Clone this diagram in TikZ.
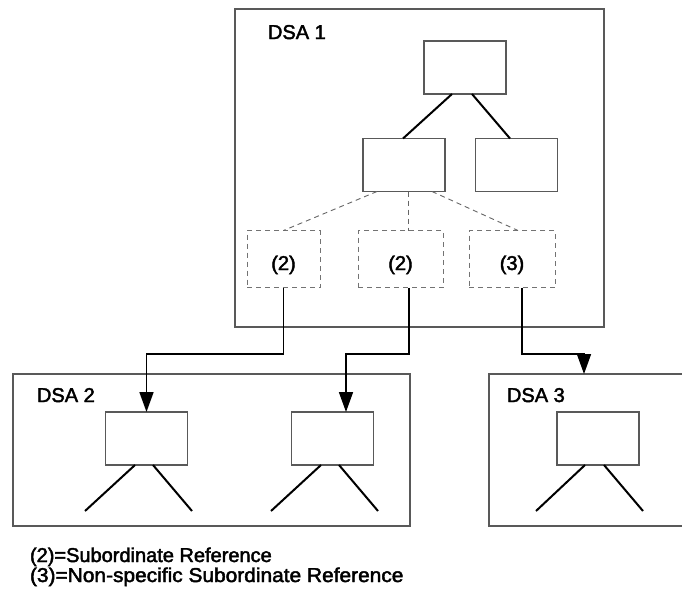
\documentclass[tikz,border=0pt]{standalone}
\usepackage{fontspec}
\usepackage{graphicx}
\setmainfont{Liberation Sans}
\newfontfamily\diagfont[FakeBold=2.2]{Liberation Sans}
\usetikzlibrary{arrows.meta}
\begin{document}
\begin{tikzpicture}[x=1pt,y=-1pt,
  every node/.style={inner sep=0pt,outer sep=0pt},
  area/.style={draw=black!65,line width=1.2pt,rectangle},
  entry/.style={draw=black!65,line width=1.1pt,rectangle,minimum width=82pt,minimum height=53pt},
  refbox/.style={draw=black!55,line width=0.9pt,dashed,dash pattern=on 5pt off 4pt,rectangle,minimum height=57pt},
  link/.style={line width=2pt,black},
  reflink/.style={draw=black!60,line width=0.9pt,dash pattern=on 5pt off 4pt},
  conn/.style={line width=1.7pt,black,-{Triangle[length=20pt,width=14pt]}},
  lbl/.style={font=\diagfont\fontsize{20}{22}\selectfont,anchor=base west},
  tag/.style={font=\diagfont\fontsize{20}{22}\selectfont,anchor=base}]
\clip (0,0) rectangle (682,592);
\fill[white] (0,0) rectangle (682,592);

% directory system agents
\node[area,minimum width=369pt,minimum height=318pt] (dsa1) at (419.5,168) {};
\node[area,minimum width=397pt,minimum height=152pt] (dsa2) at (211.5,450) {};
\node[area,minimum width=240pt,minimum height=152pt] (dsa3) at (609,450) {};
\node[lbl] (l1) at (268,39) {DSA 1};
\node[lbl] (l2) at (37,402) {DSA 2};
\node[lbl] (l3) at (507,402) {DSA 3};

% entries held by DSA 1
\node[entry] (top) at (465,67.5) {};
\node[entry] (ml) at (404,165) {};
\node[entry] (mr) at (516.5,165) {};
\draw[link] ([xshift=-13pt]top.south) -- ([xshift=-1pt]ml.north);
\draw[link] ([xshift=7pt]top.south) -- ([xshift=-6.5pt]mr.north);

% knowledge references
\node[refbox,minimum width=73pt] (p1) at (283.5,259) {};
\node[refbox,minimum width=85pt] (p2) at (400.5,259) {};
\node[refbox,minimum width=86pt] (p3) at (512,259) {};
\node[tag] at (283.5,270) {(2)};
\node[tag] at (400.5,270) {(2)};
\node[tag] at (512,270) {(3)};
\draw[reflink] ([xshift=-27pt]ml.south) -- (p1.north);
\draw[reflink] ([xshift=4pt]ml.south) -- ([xshift=7.5pt]p2.north);
\draw[reflink] ([xshift=28pt]ml.south) -- ([xshift=6pt]p3.north);

% entries held by DSA 2 and DSA 3
\node[entry] (c1) at (146.5,438.5) {};
\node[entry] (c2) at (332.5,438.5) {};
\node[entry] (c3) at (598,438.5) {};
\coordinate (c1a) at (85,511);  \coordinate (c1b) at (192,511);
\coordinate (c2a) at (271,511); \coordinate (c2b) at (378,511);
\coordinate (c3a) at (536,511); \coordinate (c3b) at (643,511);
\draw[link] ([xshift=-11.5pt]c1.south) -- (c1a);
\draw[link] ([xshift=6.5pt]c1.south) -- (c1b);
\draw[link] ([xshift=-11.5pt]c2.south) -- (c2a);
\draw[link] ([xshift=6.5pt]c2.south) -- (c2b);
\draw[link] ([xshift=-13pt]c3.south) -- (c3a);
\draw[link] ([xshift=6pt]c3.south) -- (c3b);

% references pointing into the other DSAs
\coordinate (jog) at (0,354);
\coordinate (d3in) at (584,374);
\draw[conn] (p1.south) -- (p1.south |- jog) -| (c1.north);
\draw[conn] ([xshift=8.5pt]p2.south) -- ([xshift=8.5pt]p2.south |- jog) -| ([xshift=13.5pt]c2.north);
\draw[conn] ([xshift=10pt]p3.south) -- ([xshift=10pt]p3.south |- jog) -| (d3in);

% legend
\node[lbl] (k1) at (30,562) {(2)=Subordinate Reference};
\node[lbl] (k2) at (30,582) {\scalebox{1.045}[1]{(3)=Non-specific Subordinate Reference}};
\end{tikzpicture}
\end{document}
